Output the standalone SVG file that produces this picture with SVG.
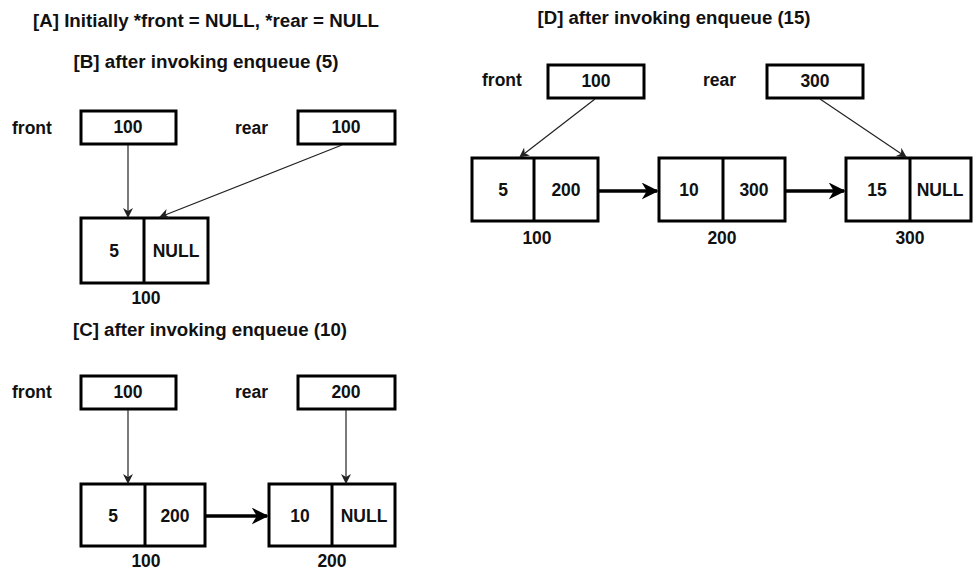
<svg xmlns="http://www.w3.org/2000/svg" width="974" height="571" viewBox="0 0 974 571">
<style>
text{font-family:"Liberation Sans",Arial,sans-serif;font-weight:bold;font-size:17.5px;fill:#111;text-anchor:middle;dominant-baseline:central}
.lbl{text-anchor:start}
.box{fill:#fff;stroke:#000;stroke-width:3}
.div{stroke:#000;stroke-width:3}
.ptr{stroke:#222;stroke-width:1.2;fill:none}
.nxt{stroke:#000;stroke-width:3.5;fill:none}
</style>
<defs>
<marker id="ah" viewBox="0 0 10 10" refX="9" refY="5" markerWidth="10" markerHeight="10" markerUnits="userSpaceOnUse" orient="auto"><path d="M0,0 L10,5 L0,10 L3,5 Z" fill="#222"/></marker>
<marker id="ah2" viewBox="0 0 10 10" refX="9" refY="5" markerWidth="17" markerHeight="17" markerUnits="userSpaceOnUse" orient="auto"><path d="M0,0 L10,5 L0,10 L3,5 Z" fill="#000"/></marker>
</defs>
<rect width="974" height="571" fill="#fff"/>
<g id="titles">
<text x="206" y="21" textLength="346" lengthAdjust="spacingAndGlyphs">[A] Initially *front = NULL, *rear = NULL</text>
<text x="206" y="62" textLength="265" lengthAdjust="spacingAndGlyphs">[B] after invoking enqueue (5)</text>
<text x="210" y="330" textLength="274" lengthAdjust="spacingAndGlyphs">[C] after invoking enqueue (10)</text>
<text x="674" y="18" textLength="273" lengthAdjust="spacingAndGlyphs">[D] after invoking enqueue (15)</text>
</g>
<g id="B-front"><text class="lbl" x="12" y="128">front</text><rect class="box" x="81" y="111" width="95" height="33"/><text x="128" y="127">100</text></g>
<g id="B-rear"><text class="lbl" x="235" y="128">rear</text><rect class="box" x="298" y="111" width="97" height="33"/><text x="346" y="127">100</text></g>
<g id="B-node100"><rect class="box" x="81" y="218" width="127" height="65"/><line class="div" x1="144" y1="218" x2="144" y2="283"/><text x="114" y="251">5</text><text x="176" y="251">NULL</text><text x="146" y="298">100</text></g>
<g id="C-front"><text class="lbl" x="12" y="392">front</text><rect class="box" x="81" y="376" width="95" height="33"/><text x="128" y="392">100</text></g>
<g id="C-rear"><text class="lbl" x="235" y="392">rear</text><rect class="box" x="298" y="376" width="97" height="33"/><text x="346" y="392">200</text></g>
<g id="C-node100"><rect class="box" x="81" y="484" width="124" height="62"/><line class="div" x1="145" y1="484" x2="145" y2="546"/><text x="113" y="516">5</text><text x="175" y="516">200</text><text x="146" y="561">100</text></g>
<g id="C-node200"><rect class="box" x="269" y="484" width="126" height="62"/><line class="div" x1="332" y1="484" x2="332" y2="546"/><text x="300" y="516">10</text><text x="364" y="516">NULL</text><text x="332" y="561">200</text></g>
<g id="D-front"><text class="lbl" x="482" y="80">front</text><rect class="box" x="548" y="65" width="96" height="33"/><text x="596" y="81">100</text></g>
<g id="D-rear"><text class="lbl" x="703" y="80">rear</text><rect class="box" x="767" y="65" width="96" height="33"/><text x="815" y="81">300</text></g>
<g id="D-node100"><rect class="box" x="472" y="158" width="126" height="63"/><line class="div" x1="534" y1="158" x2="534" y2="221"/><text x="503" y="190">5</text><text x="566" y="190">200</text><text x="537" y="238">100</text></g>
<g id="D-node200"><rect class="box" x="659" y="158" width="126" height="63"/><line class="div" x1="723" y1="158" x2="723" y2="221"/><text x="689" y="190">10</text><text x="754" y="190">300</text><text x="722" y="238">200</text></g>
<g id="D-node300"><rect class="box" x="846" y="158" width="125" height="63"/><line class="div" x1="910" y1="158" x2="910" y2="221"/><text x="877" y="190">15</text><text x="940" y="190">NULL</text><text x="910" y="238">300</text></g>
<g id="connectors">
<line class="ptr" x1="128" y1="145" x2="128" y2="217" marker-end="url(#ah)"/>
<line class="ptr" x1="342" y1="145" x2="160" y2="217" marker-end="url(#ah)"/>
<line class="ptr" x1="128" y1="410" x2="128" y2="483" marker-end="url(#ah)"/>
<line class="ptr" x1="346" y1="410" x2="346" y2="483" marker-end="url(#ah)"/>
<line class="nxt" x1="206" y1="516" x2="267" y2="516" marker-end="url(#ah2)"/>
<line class="ptr" x1="595" y1="99" x2="520" y2="157" marker-end="url(#ah)"/>
<line class="ptr" x1="820" y1="99" x2="906" y2="157" marker-end="url(#ah)"/>
<line class="nxt" x1="599" y1="191" x2="657" y2="191" marker-end="url(#ah2)"/>
<line class="nxt" x1="786" y1="191" x2="844" y2="191" marker-end="url(#ah2)"/>
</g>
</svg>
